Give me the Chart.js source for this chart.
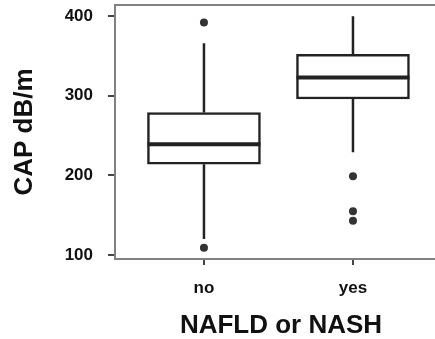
<!DOCTYPE html>
<html>
<head>
<meta charset="utf-8">
<script src="https://cdn.jsdelivr.net/npm/chart.js@4"></script>
<style>
  html, body { margin: 0; background: #fff; overflow: hidden; }
  /* the plot frame runs past the right edge of the picture, as in the original */
  #wrap { width: 447px; height: 339px; }
</style>
</head>
<body>
<div id="wrap"><canvas id="chart"></canvas></div>
<script>
// Box plot values (CAP dB/m)
const categories = ["no", "yes"];
const q1 = [214, 296];
const median = [239, 323];
const q3 = [279, 352];
const whiskerLow = [120, 229];
const whiskerHigh = [366, 400];
const outliers = [[392, 109], [199, 155, 143]];
const yTicks = [100, 200, 300, 400];

const ink = "#222";
const fontFamily = "'Liberation Sans', Arial, sans-serif";

// whisker segments, split with null gaps
const whiskerData = [];
categories.forEach((c, i) => {
  whiskerData.push({ x: i, y: whiskerHigh[i] }, { x: i, y: q3[i] }, { x: i, y: null });
  whiskerData.push({ x: i, y: q1[i] }, { x: i, y: whiskerLow[i] }, { x: i, y: null });
});

const outlierData = [];
outliers.forEach((list, i) => list.forEach(v => outlierData.push({ x: i, y: v })));

// grey frame round the plot area (top, left, bottom)
const framePlugin = {
  id: "frame",
  afterDatasetsDraw(chart) {
    const { ctx, chartArea: a } = chart;
    ctx.save();
    ctx.strokeStyle = "#808080";
    ctx.lineWidth = 2;
    ctx.beginPath();
    ctx.moveTo(a.right + 2, a.top);
    ctx.lineTo(a.left, a.top);
    ctx.lineTo(a.left, a.bottom);
    ctx.lineTo(a.right + 2, a.bottom);
    ctx.stroke();
    ctx.restore();
  },
};

new Chart(document.getElementById("chart"), {
  type: "bar",
  plugins: [framePlugin],
  data: {
    datasets: [
      {
        type: "bar",
        data: categories.map((c, i) => ({ x: i, y: [q1[i], q3[i]] })),
        backgroundColor: "#fff",
        borderColor: ink,
        borderWidth: 2.5,
        borderSkipped: false,
        barThickness: 113,
        grouped: false,
        order: 3,
      },
      {
        type: "line",
        data: whiskerData,
        borderColor: ink,
        borderWidth: 2.5,
        pointRadius: 0,
        spanGaps: false,
        order: 2,
      },
      {
        type: "line",
        data: categories.map((c, i) => ({ x: i, y: median[i] })),
        showLine: false,
        pointStyle: "line",
        pointRadius: 56.5,
        pointBorderWidth: 4,
        pointBorderColor: ink,
        order: 1,
      },
      {
        type: "line",
        data: outlierData,
        showLine: false,
        pointRadius: 4,
        pointBorderWidth: 0,
        pointBackgroundColor: "#333",
        order: 0,
      },
    ],
  },
  options: {
    responsive: true,
    maintainAspectRatio: false,
    animation: false,
    layout: { autoPadding: false, padding: { top: 5, right: 0, left: 0, bottom: 0 } },
    plugins: { legend: { display: false }, tooltip: { enabled: false } },
    scales: {
      x: {
        type: "linear",
        min: -0.597,
        max: 1.631,
        offset: false,
        afterBuildTicks: (s) => { s.ticks = categories.map((c, i) => ({ value: i })); },
        afterFit: (s) => { s.height = 80; s.paddingLeft = 0; s.paddingRight = 0; },
        border: { display: false },
        grid: { offset: false, drawOnChartArea: false, drawTicks: true, tickLength: 6, color: "#444", lineWidth: 2 },
        ticks: {
          padding: 13,
          color: "#111",
          font: { family: fontFamily, size: 17, weight: "bold" },
          callback: (v) => categories[v],
        },
        title: {
          display: true,
          text: "NAFLD or NASH",
          color: "#111",
          font: { family: fontFamily, size: 26, weight: "bold", lineHeight: 1 },
          padding: { top: 0, bottom: 0 },
        },
      },
      y: {
        min: 95,
        max: 414,
        afterBuildTicks: (s) => { s.ticks = yTicks.map(v => ({ value: v })); },
        afterFit: (s) => { s.width = 115; s.paddingTop = 0; s.paddingBottom = 0; },
        border: { display: false },
        grid: { drawOnChartArea: false, drawTicks: true, tickLength: 7, color: "#444", lineWidth: 2 },
        ticks: {
          padding: 15,
          color: "#111",
          font: { family: fontFamily, size: 17, weight: "bold" },
        },
        title: {
          display: true,
          text: "CAP dB/m",
          color: "#111",
          font: { family: fontFamily, size: 26, weight: "bold", lineHeight: 1 },
          padding: { top: 12, bottom: 0 },
        },
      },
    },
  },
});
</script>
</body>
</html>
